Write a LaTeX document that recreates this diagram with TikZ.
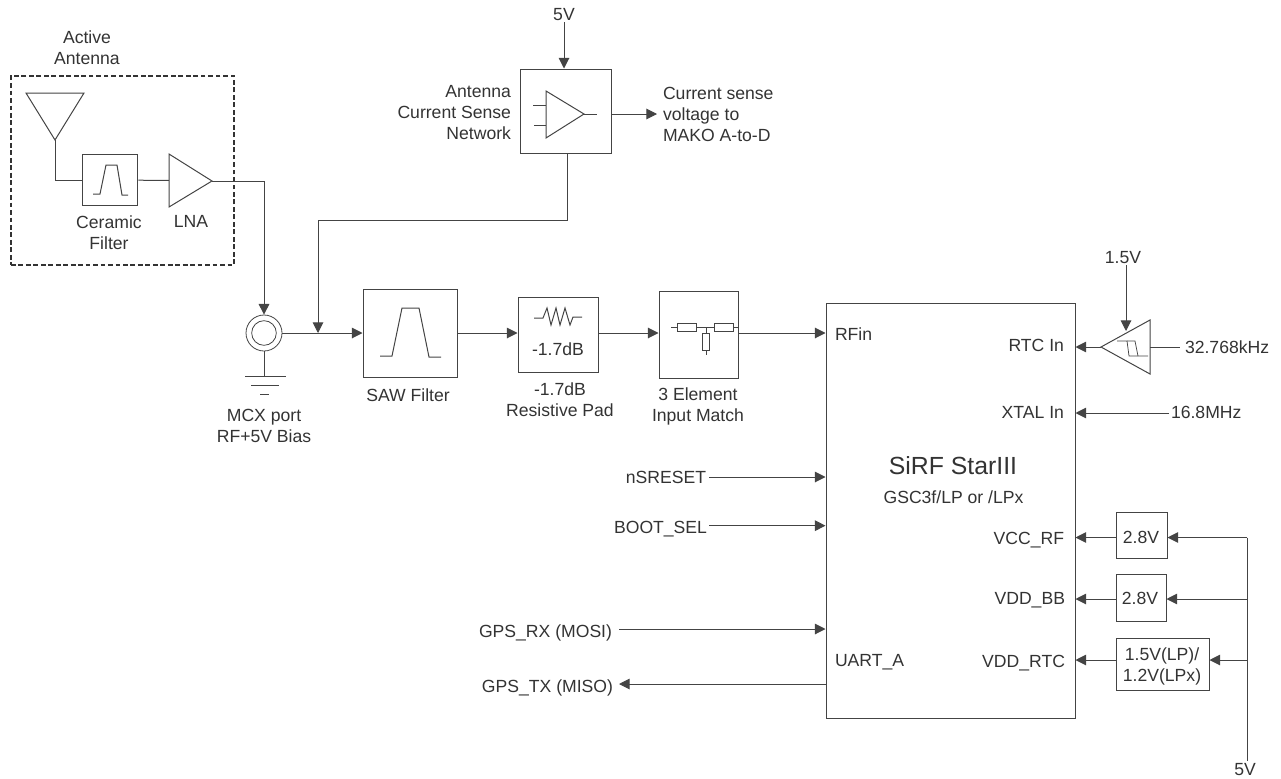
\documentclass[tikz,border=0pt]{standalone}
\usepackage{fontspec}
\setmainfont{Liberation Sans}
\usetikzlibrary{arrows.meta}
\definecolor{inkline}{HTML}{444444}
\definecolor{inktext}{HTML}{333333}
\tikzset{
  wire/.style={draw=inkline, line width=0.75pt},
  thin wire/.style={draw=inkline, line width=0.55pt},
  block/.style={draw=inkline, line width=0.75pt, rectangle, inner sep=0pt},
  lbl/.style={inner sep=0pt, outer sep=1.5pt, text=inktext, font=\fontsize{13.2}{15.75}\selectfont,
    align=center, text height=9.4pt, text depth=0pt},
  lblr/.style={lbl, anchor=east, align=right},
  lbll/.style={lbl, anchor=west, align=left}
}
\begin{document}
\begin{tikzpicture}[x=0.75pt, y=-0.75pt, >={Triangle[length=8pt,width=8pt]}]
  \useasboundingbox (0,0) rectangle (1281,778);

  % Active antenna
  \node[block, draw=black!80, line width=0.85pt, dash pattern=on 3.6pt off 2pt, minimum width=167.25pt, minimum height=141.75pt] (antbox) at (122.5,170.5) {};
  \node[lbl] (antname) at (87,58) {Active\\Antenna};
  \coordinate (anttip) at (55,140);
  \draw[wire] (26,93) -- (84,93) -- (anttip) -- cycle;
  \node[block, minimum width=41.6pt, minimum height=38.6pt] (cerfilter) at (110.2,180.2) {};
  \draw[wire] (93,194) -- (100,194) -- (106,165) -- (117,165) -- (122,195) -- (128,195);
  \node[lbl] (cername) at (109,243) {Ceramic\\Filter};
  \coordinate (lnain) at (169,180.5);
  \coordinate (lnaout) at (212,181);
  \draw[wire] (169,154) -- (lnaout) -- (169,207) -- cycle;
  \node[lbl] (lnaname) at (191,221) {LNA};
  \draw[wire] (anttip) |- (cerfilter.west);
  \draw[wire] (cerfilter.east) -- (lnain);

  % MCX port
  \node[draw=inkline, line width=0.6pt, circle, minimum size=27pt, inner sep=0pt] (port) at (264,333) {};
  \node[draw=inkline, line width=0.6pt, circle, minimum size=18.5pt, inner sep=0pt] (portin) at (264,333) {};
  \draw[wire, ->] (lnaout) -| (port.north);
  \coordinate (gnd) at (264,376);
  \draw[wire] (port.south) -- (gnd);
  \draw[wire] (245,376) -- (286,376);
  \draw[wire] (251,385) -- (279,385);
  \draw[wire] (260,394) -- (269,394);
  \node[lbl] (portname) at (264,436) {MCX port\\RF+5V Bias};

  % RF chain
  \node[block, minimum width=70.5pt, minimum height=66pt] (saw) at (410,333) {};
  \draw[wire] (380,356) -- (392,356) -- (402,308) -- (419,308) -- (429,357) -- (441,357);
  \node[lbl] (sawname) at (408,395) {SAW Filter};
  \node[block, minimum width=60pt, minimum height=56.25pt] (pad) at (558,334.5) {};
  \draw[wire] (534,318) -- (543,318) -- (547,308) -- (551,325) -- (556,308) -- (560,325) -- (565,308) -- (570,325) -- (573,317) -- (582,317);
  \node[lbl] (paddb) at (558,349) {-1.7dB};
  \node[lbl] (padname) at (560,410) {-1.7dB\\Resistive Pad};
  \node[block, minimum width=59.25pt, minimum height=65.25pt] (match) at (698.5,334.5) {};
  \draw[wire] (671,327) -- (677,327);
  \draw[wire] (677,323) rectangle (696,331);
  \draw[wire] (696,327) -- (714,327);
  \draw[wire] (714,323) rectangle (733,331);
  \draw[wire] (733,327) -- (738,327);
  \draw[wire] (706,327) -- (706,333);
  \draw[wire] (702,333) rectangle (709,350);
  \draw[wire] (706,350) -- (706,355);
  \node[lbl] (matchname) at (698,415) {3 Element\\Input Match};

  % Current sense
  \node[block, minimum width=68.25pt, minimum height=63pt] (sense) at (565.5,111) {};
  \draw[wire] (546,91) -- (584,114) -- (546,138) -- cycle;
  \draw[wire] (533,105) -- (546,105);
  \draw[wire] (534,125) -- (546,125);
  \draw[wire] (584,114) -- (597,114);
  \node[lblr] (sensename) at (513,133) {Antenna\\Current Sense\\Network};
  \node[lbl] (fivetop) at (564,14) {5V};
  \draw[wire, ->] (fivetop.south) -- (fivetop.south |- sense.north);
  \node[lbll] (senseout) at (661,135) {Current sense\\voltage to\\MAKO A-to-D};
  \coordinate (senseend) at (657,114);
  \draw[wire, ->] (sense.east |- senseend) -- (senseend);
  \coordinate (joinrf) at (318,333);
  \coordinate (senserun) at (318,220);
  \coordinate (sensedrop) at (567,220);
  \draw[wire, ->] (sensedrop |- sense.south) -- (sensedrop) -- (senserun) -- (joinrf);

  % Receiver
  \node[block, minimum width=186.75pt, minimum height=311.25pt] (main) at (950.5,510.5) {};
  \node[lbl, font=\fontsize{18.6}{22}\selectfont, text height=13.3pt] (mainname) at (953,466) {SiRF StarIII};
  \node[lbl] (mainpart) at (953.5,497) {GSC3f/LP or /LPx};
  \node[lbll] (pinrf) at (833,334) {RFin};
  \node[lblr] (pinrtc) at (1066,345) {RTC In};
  \node[lblr] (pinxtal) at (1066,412) {XTAL In};
  \node[lblr] (pinvcc) at (1066,538) {VCC\_RF};
  \node[lblr] (pinvdd) at (1067,598) {VDD\_BB};
  \node[lblr] (pinvrtc) at (1067,661) {VDD\_RTC};
  \node[lbll] (pinuart) at (833,660) {UART\_A};
  \draw[wire] (port.east) -- (joinrf);
  \draw[wire, ->] (joinrf) -- (saw.west);
  \draw[wire, ->] (saw.east) -- (saw.east -| pad.west);
  \draw[wire, ->] (pad.east |- saw.east) -- (match.west |- saw.east);
  \draw[wire, ->] (match.east |- saw.east) -- (main.west |- saw.east);

  % Left side signals
  \node[lblr] (nsreset) at (708,477) {nSRESET};
  \node[lblr] (bootsel) at (709,527) {BOOT\_SEL};
  \node[lblr] (gpsrx) at (614,631) {GPS\_RX (MOSI)};
  \node[lblr] (gpstx) at (615,686) {GPS\_TX (MISO)};
  \draw[wire, ->, shorten <=1pt] (nsreset.east) -- (nsreset.east -| main.west);
  \draw[wire, ->] ([yshift=1pt]bootsel.east) -- ([yshift=1pt]bootsel.east -| main.west);
  \draw[wire, ->, shorten <=4pt] ([yshift=1.5pt]gpsrx.east) -- ([yshift=1.5pt]gpsrx.east -| main.west);
  \draw[wire, ->, shorten >=3pt] ([yshift=1.5pt]gpstx.east -| main.west) -- ([yshift=1.5pt]gpstx.east);

  % RTC clock
  \coordinate (rtctip) at (1101,347);
  \coordinate (rtcback) at (1150,347);
  \draw[wire] (rtctip) -- (1150,320) -- (1150,374) -- cycle;
  \draw[thin wire] (1117,341) -- (1127,341) -- (1129,356) -- (1148,356);
  \draw[thin wire] (1127,341) -- (1135,341) -- (1138,356);
  \draw[wire, ->] (rtctip) -- (rtctip -| main.east);
  \node[lbl] (onefive) at (1123,257) {1.5V};
  \coordinate (rtctop) at (1126,331);
  \draw[wire, ->] (onefive.south -| rtctop) -- (rtctop);
  \node[lbll] (clkrtc) at (1183,347) {32.768kHz};
  \draw[wire, shorten >=2pt] (rtcback) -- (clkrtc.west);
  \node[lbll] (clkxtal) at (1169,412) {16.8MHz};
  \draw[wire, ->] ([yshift=-0.75pt]clkxtal.west) -- ([yshift=-0.75pt]clkxtal.west -| main.east);

  % Regulators
  \node[block, minimum width=38.25pt, minimum height=34.5pt] (regrf) at (1141.5,535) {};
  \node[block, minimum width=37.5pt, minimum height=35.25pt] (regbb) at (1141,597.5) {};
  \node[block, minimum width=69.75pt, minimum height=39pt] (regrtc) at (1162.5,664) {};
  \node[lbl] (regrfval) at (1141,537) {2.8V};
  \node[lbl] (regbbval) at (1140,598) {2.8V};
  \node[lbl] (regrtcval) at (1162,675) {1.5V(LP)/\\1.2V(LPx)};
  \node[lbl] (fivebot) at (1245,769) {5V};
  \coordinate (railrf) at (1247,537.5);
  \coordinate (railbb) at (1247,599);
  \coordinate (railrtc) at (1247,660);
  \draw[wire] (railrf) -- (railrf |- fivebot.north);
  \draw[wire, ->] (railrf) -- (railrf -| regrf.east);
  \draw[wire, ->] (railbb) -- (railbb -| regbb.east);
  \draw[wire, ->] (railrtc) -- (railrtc -| regrtc.east);
  \draw[wire, ->] (railrf -| regrf.west) -- (railrf -| main.east);
  \draw[wire, ->] (railbb -| regbb.west) -- (railbb -| main.east);
  \draw[wire, ->] (railrtc -| regrtc.west) -- (railrtc -| main.east);
\end{tikzpicture}
\end{document}
